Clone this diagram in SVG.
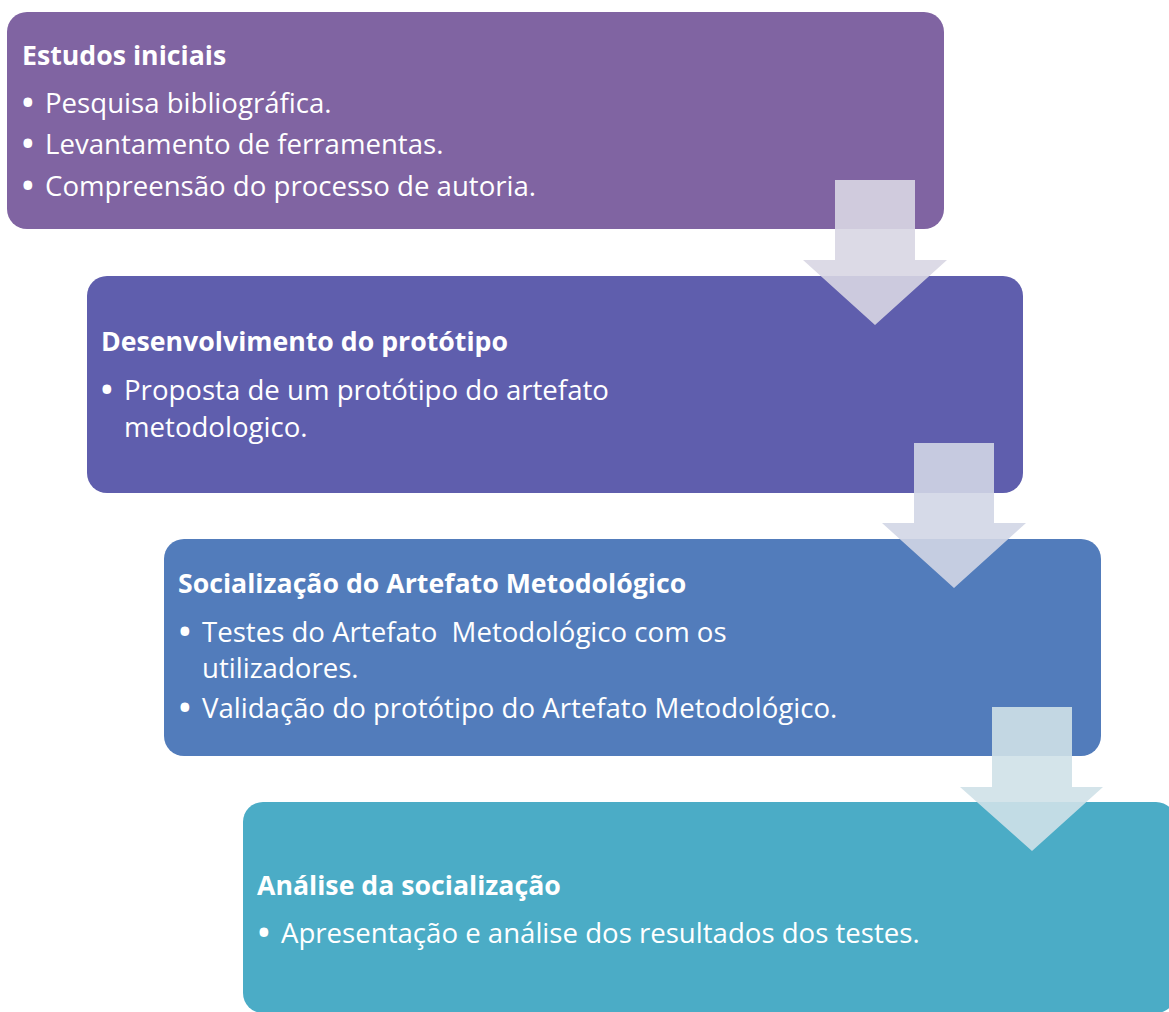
<svg xmlns="http://www.w3.org/2000/svg" width="1169" height="1012" viewBox="0 0 1169 1012">
<style>
.t{font-family:"Open Sans","Noto Sans","Liberation Sans",sans-serif;fill:#fff}
.h{font-size:26.7px;font-weight:700}
.b{font-size:27.6px}
.d{font-size:31px;font-weight:700}
.arr{opacity:0.9}
</style>
<rect width="1169" height="1012" fill="#fff"/>
<g id="node1">
<rect x="7" y="12" width="937" height="217" rx="20" fill="#8064A2"/>
<text class="t h" x="22" y="65">Estudos iniciais</text>
<text class="t b" y="113"><tspan class="d" x="22">•</tspan><tspan x="45">Pesquisa bibliográfica.</tspan></text>
<text class="t b" y="154"><tspan class="d" x="22">•</tspan><tspan x="45">Levantamento de ferramentas.</tspan></text>
<text class="t b" y="196"><tspan class="d" x="22">•</tspan><tspan x="45">Compreensão do processo de autoria.</tspan></text>
</g>
<g id="node2">
<rect x="87" y="276" width="936" height="217" rx="20" fill="#5F5EAD"/>
<text class="t h" x="101" y="351">Desenvolvimento do protótipo</text>
<text class="t b" y="400"><tspan class="d" x="101">•</tspan><tspan x="124">Proposta de um protótipo do artefato</tspan></text>
<text class="t b" x="124" y="437">metodologico.</text>
</g>
<g id="node3">
<rect x="164" y="539" width="937" height="217" rx="20" fill="#527CBB"/>
<text class="t h" x="178" y="593">Socialização do Artefato Metodológico</text>
<text class="t b" y="642" xml:space="preserve"><tspan class="d" x="179">•</tspan><tspan x="202">Testes do Artefato  Metodológico com os</tspan></text>
<text class="t b" x="202" y="678">utilizadores.</text>
<text class="t b" y="718"><tspan class="d" x="179">•</tspan><tspan x="202">Validação do protótipo do Artefato Metodológico.</tspan></text>
</g>
<g id="node4">
<rect x="243" y="802" width="933" height="211" rx="20" fill="#4BACC6"/>
<text class="t h" x="257" y="895">Análise da socialização</text>
<text class="t b" y="943"><tspan class="d" x="258">•</tspan><tspan x="281">Apresentação e análise dos resultados dos testes.</tspan></text>
</g>
<g id="connectors">
<path class="arr" d="M835,180 H915 V260 H947 L875,325 L803,260 H835 Z" fill="#D8D6E3"/>
<path class="arr" d="M914,443 H994 V523 H1026 L954,588 L882,523 H914 Z" fill="#D1D6E5"/>
<path class="arr" d="M992,707 H1072 V787 H1103 L1032,851 L960,787 H992 Z" fill="#CFE1E8"/>
</g>
</svg>
